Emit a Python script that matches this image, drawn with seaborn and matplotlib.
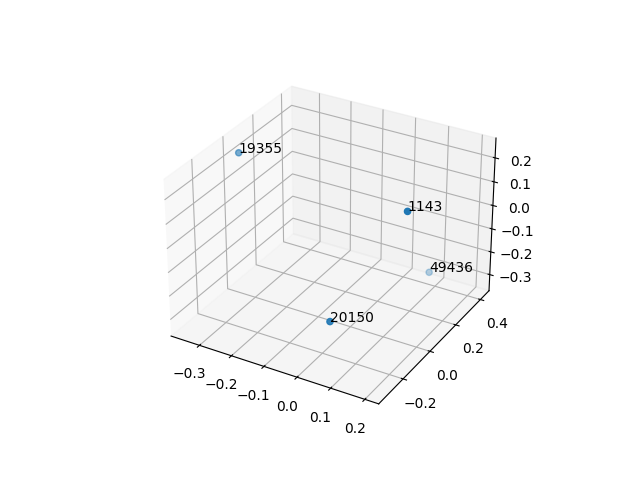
import matplotlib
matplotlib.use("Agg")
import matplotlib.pyplot as plt
import seaborn as sns

labels = ["19355", "1143", "49436", "20150"]
xs = [-0.35, 0.20, 0.074, 0.075]
ys = [0.017, -0.09, 0.418, -0.32]
zs = [0.22, 0.24, -0.33, -0.135]

color = sns.color_palette("tab10")[0]
fig = plt.figure(figsize=(6.4, 4.8), dpi=100)
ax = fig.add_subplot(projection="3d")
ax.scatter(xs, ys, zs, color=color)
for x, y, z, t in zip(xs, ys, zs, labels):
    ax.text(x, y, z, t)
fig.savefig("out.png", dpi=100)
